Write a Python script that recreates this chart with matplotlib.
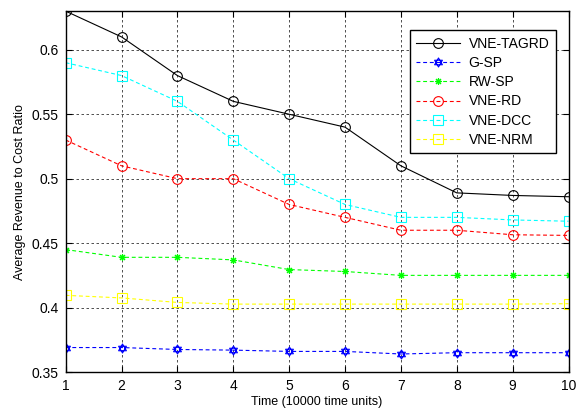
import matplotlib
matplotlib.use("Agg")
import matplotlib.pyplot as plt
from matplotlib.path import Path
import numpy as np

plt.rcParams['font.family'] = ['Liberation Sans', 'DejaVu Sans']

time_steps = [1, 2, 3, 4, 5, 6, 7, 8, 9, 10]

vne_tagrd = [0.63, 0.61, 0.58, 0.56, 0.55, 0.54, 0.51, 0.489, 0.487, 0.486]
g_sp = [0.369, 0.369, 0.3675, 0.367, 0.366, 0.366, 0.364, 0.365, 0.365, 0.365]
rw_sp = [0.445, 0.439, 0.439, 0.437, 0.4295, 0.428, 0.425, 0.425, 0.425, 0.425]
vne_rd = [0.53, 0.51, 0.50, 0.50, 0.48, 0.47, 0.46, 0.46, 0.4565, 0.456]
vne_dcc = [0.59, 0.58, 0.56, 0.53, 0.50, 0.48, 0.47, 0.47, 0.468, 0.467]
vne_nrm = [0.4095, 0.4075, 0.404, 0.4027, 0.4027, 0.4027, 0.4027, 0.4027, 0.4027, 0.403]

labels = ['VNE-TAGRD', 'G-SP', 'RW-SP', 'VNE-RD', 'VNE-DCC', 'VNE-NRM']

# six-pointed star (hexagram) built from two overlapping triangles
ang_up = np.deg2rad([90, 210, 330])
ang_dn = np.deg2rad([270, 30, 150])
verts = []
codes = []
for ang in (ang_up, ang_dn):
    pts = [(np.cos(a), np.sin(a)) for a in ang]
    verts += pts + [pts[0]]
    codes += [Path.MOVETO, Path.LINETO, Path.LINETO, Path.CLOSEPOLY]
hexagram = Path(verts, codes)

fig = plt.figure(figsize=(5.76, 4.12), dpi=100)
ax = fig.add_axes([0.114, 0.097, 0.873, 0.876])

dash = (0, (3.5, 2.5))
lw = 0.8
ax.plot(time_steps, vne_tagrd, color='k', linestyle='-', linewidth=lw,
        marker='o', markersize=7, markerfacecolor='none', markeredgewidth=0.8,
        label=labels[0])
ax.plot(time_steps, g_sp, color=(0, 0, 1), linestyle=dash, linewidth=lw,
        marker=hexagram, markersize=6.5, markerfacecolor='none', markeredgewidth=0.8,
        label=labels[1])
ax.plot(time_steps, rw_sp, color=(0, 1, 0), linestyle=dash, linewidth=lw,
        marker=(8, 2, 0), markersize=5, markeredgewidth=0.8,
        label=labels[2])
ax.plot(time_steps, vne_rd, color=(1, 0, 0), linestyle=dash, linewidth=lw,
        marker='o', markersize=7, markerfacecolor='none', markeredgewidth=0.8,
        label=labels[3])
ax.plot(time_steps, vne_dcc, color=(0, 1, 1), linestyle=dash, linewidth=lw,
        marker='s', markersize=7, markerfacecolor='none', markeredgewidth=0.8,
        label=labels[4])
ax.plot(time_steps, vne_nrm, color=(1, 1, 0), linestyle=dash, linewidth=lw,
        marker='s', markersize=7, markerfacecolor='none', markeredgewidth=0.8,
        label=labels[5])

ax.set_xlim(1, 10)
ax.set_ylim(0.35, 0.63)
ax.set_xticks(time_steps)
ax.set_yticks([0.35, 0.4, 0.45, 0.5, 0.55, 0.6])
ax.set_yticklabels(['0.35', '0.4', '0.45', '0.5', '0.55', '0.6'])

ax.grid(True, color='k', linestyle=(0, (3, 3)), linewidth=0.6, alpha=0.8)
ax.tick_params(direction='in', top=True, right=True, labelsize=10, length=4,
               width=0.8, pad=5)
for sp in ax.spines.values():
    sp.set_linewidth(1.0)

ax.set_xlabel('Time (10000 time units)', fontsize=9, labelpad=2)
ax.set_ylabel('Average Revenue to Cost Ratio', fontsize=9, labelpad=4)

leg = ax.legend(loc='upper right', bbox_to_anchor=(0.988, 0.966), fontsize=10,
                frameon=True, fancybox=False, edgecolor='k', framealpha=1,
                handlelength=3.2, borderpad=0.45, labelspacing=0.38,
                handletextpad=0.6)
leg.get_frame().set_linewidth(1.0)

fig.savefig('out.png', dpi=100)
